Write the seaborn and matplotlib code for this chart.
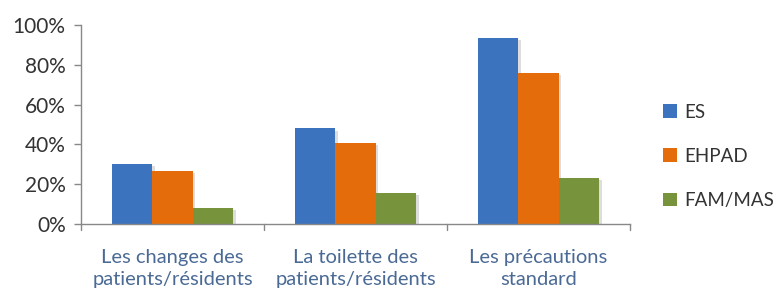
import matplotlib
matplotlib.use("Agg")
import matplotlib.pyplot as plt
import seaborn as sns
import pandas as pd
from matplotlib.patches import Patch
import matplotlib.patheffects as pe

categories = ["Les changes des\npatients/résidents",
              "La toilette des\npatients/résidents",
              "Les précautions\nstandard"]
series = ["ES", "EHPAD", "FAM/MAS"]
es_values = [30, 48, 93.5]
ehpad_values = [26.5, 40.5, 76]
fammas_values = [8, 15.5, 23]
colors = ["#3B73BE", "#E46C0A", "#77933C"]
yticks = [0, 0.2, 0.4, 0.6, 0.8, 1.0]
ytick_labels = ["0%", "20%", "40%", "60%", "80%", "100%"]

rows = []
for s, vals in zip(series, [es_values, ehpad_values, fammas_values]):
    for c, v in zip(categories, vals):
        rows.append({"cat": c, "series": s, "value": v / 100})
df = pd.DataFrame(rows)

sns.set_theme(style="white")
plt.rcParams["font.family"] = ["Lato", "DejaVu Sans"]

fig = plt.figure(figsize=(7.82, 2.95), dpi=100)
ax = fig.add_axes([0.1036, 0.2407, 0.7020, 0.6746])

sns.barplot(data=df, x="cat", y="value", hue="series", order=categories,
            hue_order=series, palette=colors, width=0.66, gap=0,
            saturation=1, ax=ax, legend=False, linewidth=0)

for p in ax.patches:
    p.set_path_effects([pe.SimplePatchShadow(offset=(2, -1.5), shadow_rgbFace="#aaaaaa", alpha=0.4), pe.Normal()])

ax.set_xlim(-0.5, 2.5)
ax.set_ylim(0, 1.0)
ax.set_yticks(yticks)
ax.set_yticklabels(ytick_labels, fontsize=15, color="#333333")
ax.set_xticks(range(len(categories)))
ax.set_xticklabels(categories, fontsize=14.5, color="#4A6A95", linespacing=1.35)
ax.tick_params(axis="x", length=0, pad=18)
ax.tick_params(axis="y", length=5, width=1, color="#888888", direction="out", pad=6, left=True)
for b in [0.5, 1.5, 2.5, -0.5]:
    ax.plot([b, b], [0, -0.03], color="#888888", lw=1, clip_on=False, transform=ax.transData)
ax.set_xlabel("")
ax.set_ylabel("")
for s in ["top", "right"]:
    ax.spines[s].set_visible(False)
for s in ["left", "bottom"]:
    ax.spines[s].set_color("#888888")
    ax.spines[s].set_linewidth(1)

handles = [Patch(facecolor=c, edgecolor="none", label=s) for s, c in zip(series, colors)]
fig.legend(handles=handles, loc="center left", bbox_to_anchor=(0.848, 0.47),
           frameon=False, fontsize=13.5, labelcolor="#333333", borderaxespad=0, borderpad=0,
           handlelength=0.75, handleheight=0.75, handletextpad=0.35, labelspacing=1.45)

fig.savefig("out.png", dpi=100)
